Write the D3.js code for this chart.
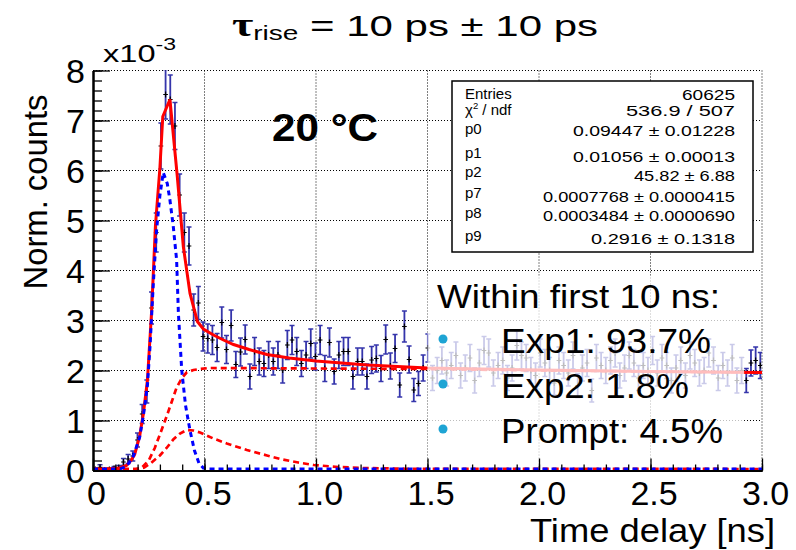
<!DOCTYPE html>
<html>
<head>
<meta charset="utf-8">
<script src="https://cdn.jsdelivr.net/npm/d3@7"></script>
<style>
  body { margin: 0; background: #fff; }
  svg { display: block; font-family: "Liberation Sans", Arial, sans-serif; }
</style>
</head>
<body>
<div id="wrapper"></div>
<script>
// histogram: bin width in ns, bins start at 0
const binWidth = 0.021;
const counts = [
  0.02,0.064,0.01,0.02,0.04,0.06,0.17,0.23,0.29,0.61,1.13,1.58,3.25,4.76,6.49,7.52,7.42,6.89,5.51,4.76,4.49,3.21,3.35,
  2.68,2.64,2.61,2.46,2.96,2.42,2.90,2.12,2.37,2.62,
  1.88,2.38,2.18,2.14,2.31,2.18,2.31,2.01,2.51,2.61,
  2.38,2.14,2.31,2.54,2.28,2.61,2.04,2.56,1.98,2.31,
  2.38,2.38,1.88,2.18,2.18,1.88,2.21,2.24,2.04,2.62,
  2.09,2.44,1.71,2.88,2.22,1.61,1.74,2.05,
  2.45,1.85,2.00,2.20,1.95,2.10,2.30,1.90,2.05,2.25,
  1.80,2.15,2.40,2.35,1.95,2.10,2.20,1.85,2.05,2.50,
  2.30,2.25,2.00,1.90,2.35,2.15,2.00,1.75,2.20,2.10,
  1.95,2.30,1.70,2.05,2.15,1.60,2.25,2.10,2.00,2.20,
  2.35,1.90,2.05,2.30,2.15,1.85,2.10,2.00,2.40,1.95,
  2.25,2.10,1.80,2.05,2.20,1.90,2.30,2.15,1.95,2.00,
  2.35,2.20,1.85,2.10,1.95,2.25,1.80,2.00,
  1.80,2.15,2.20,2.10
];
const errors = [
  0.03,0.05,0.02,0.03,0.04,0.04,0.07,0.09,0.10,0.14,0.19,0.23,0.32,0.39,0.46,0.49,0.49,0.47,0.42,0.39,0.38,0.32,0.33,
  0.29,0.29,0.29,0.28,0.31,0.28,0.31,0.26,0.28,0.29,
  0.25,0.28,0.27,0.26,0.27,0.27,0.27,0.26,0.29,0.29,
  0.28,0.26,0.27,0.29,0.27,0.29,0.26,0.29,0.25,0.27,
  0.28,0.28,0.25,0.27,0.27,0.25,0.27,0.27,0.26,0.29,
  0.26,0.28,0.24,0.31,0.27,0.23,0.24,0.26,
  0.28,0.25,0.26,0.27,0.26,0.26,0.27,0.25,0.26,0.27,
  0.25,0.27,0.28,0.28,0.26,0.26,0.27,0.25,0.26,0.29,
  0.27,0.27,0.26,0.25,0.28,0.27,0.26,0.24,0.27,0.26,
  0.26,0.27,0.24,0.26,0.27,0.23,0.27,0.26,0.26,0.27,
  0.28,0.25,0.26,0.27,0.27,0.25,0.26,0.26,0.28,0.26,
  0.27,0.26,0.25,0.26,0.27,0.25,0.27,0.27,0.26,0.26,
  0.28,0.27,0.25,0.26,0.26,0.27,0.25,0.26,
  0.24,0.26,0.27,0.26
];

// fit curves: [time ns, value x1e-3]
const fitTotal = [[0,0.03],[0.06,0.03],[0.12,0.05],[0.15,0.1],[0.17,0.2],[0.187,0.32],[0.209,0.68],[0.226,1.14],[0.244,1.8],[0.263,3.2],[0.28,4.9],[0.30,6.05],[0.313,7.08],[0.345,7.42],[0.378,5.88],[0.405,4.48],[0.435,3.54],[0.468,2.98],[0.495,2.83],[0.54,2.71],[0.585,2.61],[0.63,2.52],[0.70,2.42],[0.78,2.32],[0.88,2.25],[1.0,2.19],[1.23,2.11],[1.5,2.05],[2.0,2.01],[2.5,1.98],[3.0,1.96]];
const fitPrompt = [[0,0.03],[0.12,0.03],[0.15,0.08],[0.18,0.28],[0.209,0.66],[0.226,1.1],[0.244,1.7],[0.256,2.5],[0.27,3.7],[0.285,4.8],[0.30,5.5],[0.315,5.96],[0.333,5.74],[0.345,5.41],[0.36,4.88],[0.375,4.21],[0.383,3.14],[0.398,2.0],[0.415,1.3],[0.435,0.8],[0.455,0.4],[0.475,0.15],[0.495,0.05],[0.52,0.03],[3.0,0.03]];
const fitExp1 = [[0,0.03],[0.19,0.03],[0.217,0.05],[0.25,0.2],[0.277,0.45],[0.30,0.72],[0.33,1.08],[0.355,1.4],[0.375,1.66],[0.40,1.86],[0.42,1.96],[0.45,2.01],[0.48,2.03],[0.52,2.05],[1.0,2.04],[1.5,2.03],[2.0,2.0],[2.5,1.98],[3.0,1.96]];
const fitExp2 = [[0,0.03],[0.2,0.03],[0.23,0.06],[0.26,0.15],[0.3,0.3],[0.33,0.45],[0.36,0.62],[0.39,0.74],[0.42,0.81],[0.45,0.8],[0.48,0.76],[0.54,0.64],[0.6,0.54],[0.69,0.41],[0.78,0.3],[0.84,0.23],[0.92,0.16],[0.99,0.11],[1.1,0.07],[1.21,0.05],[1.4,0.035],[3.0,0.03]];

const xTicks = [0, 0.5, 1.0, 1.5, 2.0, 2.5, 3.0];
const xTickLabels = ["0", "0.5", "1.0", "1.5", "2.0", "2.5", "3.0"];
const yTicks = [0, 1, 2, 3, 4, 5, 6, 7, 8];

const statsNames = ["Entries", "\u03c7\u00b2 / ndf", "p0", "p1", "p2", "p7", "p8", "p9"];
const statsValues = ["60625", "536.9 / 507", "0.09447 \u00b1 0.01228", "0.01056 \u00b1 0.00013", "45.82 \u00b1 6.88",
  "0.0007768 \u00b1 0.0000415", "0.0003484 \u00b1 0.0000690", "0.2916 \u00b1 0.1318"];

const legendHeader = "Within first 10 ns:";
const legendLines = ["Exp1: 93.7%", "Exp2: 1.8%", "Prompt: 4.5%"];
const fadeRange = [1.5, 2.92];   // ns covered by the legend pane
const fadeLevels = [0.1, 3.9];

const dimension = {
  width: 796, height: 550,
  margin: { left: 93, right: 34, top: 70.5, bottom: 79.5 }
};

const svg = d3.select("#wrapper").append("svg")
  .attr("width", dimension.width).attr("height", dimension.height);

const x = d3.scaleLinear().domain([0, 3])
  .range([dimension.margin.left, dimension.width - dimension.margin.right]);
const y = d3.scaleLinear().domain([0, 8])
  .range([dimension.height - dimension.margin.bottom, dimension.margin.top]);

svg.append("clipPath").attr("id", "plotclip").append("rect")
  .attr("x", x(0)).attr("y", y(8)).attr("width", x(3) - x(0)).attr("height", y(0) - y(8));

// grid
const grid = svg.append("g").attr("stroke", "#000").attr("stroke-width", 1).attr("stroke-dasharray", "1,2");
grid.selectAll(".gx").data([0.5, 1, 1.5, 2, 2.5, 3]).join("line")
  .attr("x1", d => x(d)).attr("x2", d => x(d)).attr("y1", y(0)).attr("y2", y(8));
grid.selectAll(".gy").data([1, 2, 3, 4, 5, 6, 7, 8]).join("line")
  .attr("y1", d => y(d)).attr("y2", d => y(d)).attr("x1", x(0)).attr("x2", x(3));

const plot = svg.append("g").attr("clip-path", "url(#plotclip)");

// histogram points
const bins = counts.map((c, i) => ({ t: (i + 0.5) * binWidth, v: c, e: errors[i] }));
const pts = plot.append("g");
const barColor = "#3535ab";
pts.selectAll(".eb").data(bins).join("line")
  .attr("x1", d => x(d.t)).attr("x2", d => x(d.t))
  .attr("y1", d => y(d.v - d.e)).attr("y2", d => y(d.v + d.e))
  .attr("stroke", barColor).attr("stroke-width", 1.8);
pts.selectAll(".capt").data(bins).join("line")
  .attr("x1", d => x(d.t) - 2.5).attr("x2", d => x(d.t) + 2.5)
  .attr("y1", d => y(d.v + d.e)).attr("y2", d => y(d.v + d.e))
  .attr("stroke", barColor).attr("stroke-width", 1.5);
pts.selectAll(".capb").data(bins).join("line")
  .attr("x1", d => x(d.t) - 2.5).attr("x2", d => x(d.t) + 2.5)
  .attr("y1", d => y(d.v - d.e)).attr("y2", d => y(d.v - d.e))
  .attr("stroke", barColor).attr("stroke-width", 1.5);
pts.selectAll(".mh").data(bins).join("line")
  .attr("x1", d => x(d.t - binWidth / 2)).attr("x2", d => x(d.t + binWidth / 2))
  .attr("y1", d => y(d.v)).attr("y2", d => y(d.v))
  .attr("stroke", "#000").attr("stroke-width", 1.2);
pts.selectAll(".mv").data(bins).join("line")
  .attr("x1", d => x(d.t)).attr("x2", d => x(d.t))
  .attr("y1", d => y(d.v) - 3).attr("y2", d => y(d.v) + 3)
  .attr("stroke", "#000").attr("stroke-width", 1.2);

// fit curves
const line = d3.line().x(d => x(d[0])).y(d => y(d[1]));
plot.append("path").attr("d", line(fitTotal)).attr("fill", "none")
  .attr("stroke", "#ff0000").attr("stroke-width", 3);
plot.append("path").attr("d", line(fitExp2)).attr("fill", "none")
  .attr("stroke", "#ff0000").attr("stroke-width", 2.7).attr("stroke-dasharray", "6,4");
plot.append("path").attr("d", line(fitExp1)).attr("fill", "none")
  .attr("stroke", "#ff0000").attr("stroke-width", 2.7).attr("stroke-dasharray", "6,4");
plot.append("path").attr("d", line(fitPrompt)).attr("fill", "none")
  .attr("stroke", "#0000ff").attr("stroke-width", 3).attr("stroke-dasharray", "5,4");

// semi-transparent legend pane
svg.append("rect")
  .attr("x", x(fadeRange[0])).attr("width", x(fadeRange[1]) - x(fadeRange[0]))
  .attr("y", y(fadeLevels[1])).attr("height", y(fadeLevels[0]) - y(fadeLevels[1]))
  .attr("fill", "#fff").attr("opacity", 0.74);

function fitText(sel, len) {
  sel.attr("textLength", len).attr("lengthAdjust", "spacingAndGlyphs");
}

svg.append("text").attr("x", 437).attr("y", 308).attr("font-size", 33).text(legendHeader).call(fitText, 283);
const legendY = [353, 398, 443];
const legendW = [210, 188, 222];
legendLines.forEach((s, i) => {
  svg.append("text").attr("x", 501).attr("y", legendY[i]).attr("font-size", 35).text(s).call(fitText, legendW[i]);
  svg.append("circle").attr("cx", 443).attr("cy", legendY[i] - 14).attr("r", 4.5).attr("fill", "#1ea4d4");
});

// stats box
svg.append("rect").attr("x", 452).attr("y", 81).attr("width", 301).attr("height", 171)
  .attr("fill", "#fff").attr("stroke", "#000").attr("stroke-width", 1.5);
const nameY = [99, 114.5, 133.5, 157.5, 177, 197.5, 217.5, 241];
const valY = [100, 116, 136, 161.5, 181, 202, 221, 244];
const valW = [53, 109, 162, 162, 101, 192, 192, 144];
statsNames.forEach((s, i) => {
  const t = svg.append("text").attr("x", 465).attr("y", nameY[i]).attr("font-size", 15);
  if (i === 1) {
    t.append("tspan").text("\u03c7");
    t.append("tspan").attr("font-size", 9.5).attr("dy", -6).text("2");
    t.append("tspan").attr("dy", 6).text(" / ndf");
  } else {
    t.text(s);
  }
});
statsValues.forEach((s, i) => {
  svg.append("text").attr("x", 735 - valW[i]).attr("y", valY[i]).attr("font-size", 15)
    .text(s).call(fitText, valW[i]);
});

// temperature label
svg.append("text").attr("x", 272).attr("y", 141).attr("font-size", 38).attr("font-weight", "bold")
  .text("20 \u00b0C").call(fitText, 106);

// axes
const yAxis = d3.axisLeft(y).tickValues(yTicks).tickSize(-17).tickSizeOuter(0).tickPadding(8)
  .tickFormat(d3.format("d"));
const yMinor = d3.axisLeft(y).tickValues(d3.range(0, 8.01, 0.2)).tickSize(-9).tickSizeOuter(0).tickFormat("");
const xAxis = d3.axisBottom(x).tickValues(xTicks).tickSize(-12).tickSizeOuter(0).tickPadding(10)
  .tickFormat((d, i) => xTickLabels[i]);
const xMinor = d3.axisBottom(x).tickValues(d3.range(0, 3.001, 0.1)).tickSize(-6).tickSizeOuter(0).tickFormat("");

function styleAxis(g) {
  g.attr("font-size", null).attr("font-family", null);
  g.select(".domain").attr("stroke-width", 2);
  g.selectAll(".tick line").attr("stroke-width", 1.3);
  g.selectAll("text").attr("font-size", 34).attr("fill", "#000");
}
svg.append("g").attr("transform", `translate(${x(0)},0)`).call(yMinor).call(styleAxis);
svg.append("g").attr("transform", `translate(${x(0)},0)`).call(yAxis).call(styleAxis)
  .selectAll("text").attr("dy", "0.36em");
svg.append("g").attr("transform", `translate(0,${y(0)})`).call(xMinor).call(styleAxis);
svg.append("g").attr("transform", `translate(0,${y(0)})`).call(xAxis).call(styleAxis)
  .selectAll("text").attr("dy", "0.72em").attr("dx", 3);

// multiplier
const mult = svg.append("text").attr("x", 103).attr("y", 62).attr("font-size", 24);
mult.append("tspan").text("x10");
mult.append("tspan").attr("font-size", 17).attr("dy", -12).text("-3");
mult.call(fitText, 73);

// axis titles
svg.append("text").attr("transform", "translate(47,192) rotate(-90)").attr("text-anchor", "middle")
  .attr("font-size", 34).text("Norm. counts").call(fitText, 195);
svg.append("text").attr("x", 530).attr("y", 542).attr("font-size", 34)
  .text("Time delay [ns]").call(fitText, 245);

// title
const title = svg.append("text").attr("x", 232).attr("y", 36).attr("font-size", 30);
title.append("tspan").attr("font-family", "Liberation Serif").attr("font-weight", "bold").attr("font-size", 33).text("\u03c4");
title.append("tspan").attr("font-size", 20).attr("dy", 4).text("rise");
title.append("tspan").attr("dy", -4).text(" = 10 ps \u00b1 10 ps");
title.call(fitText, 366);
</script>
</body>
</html>
